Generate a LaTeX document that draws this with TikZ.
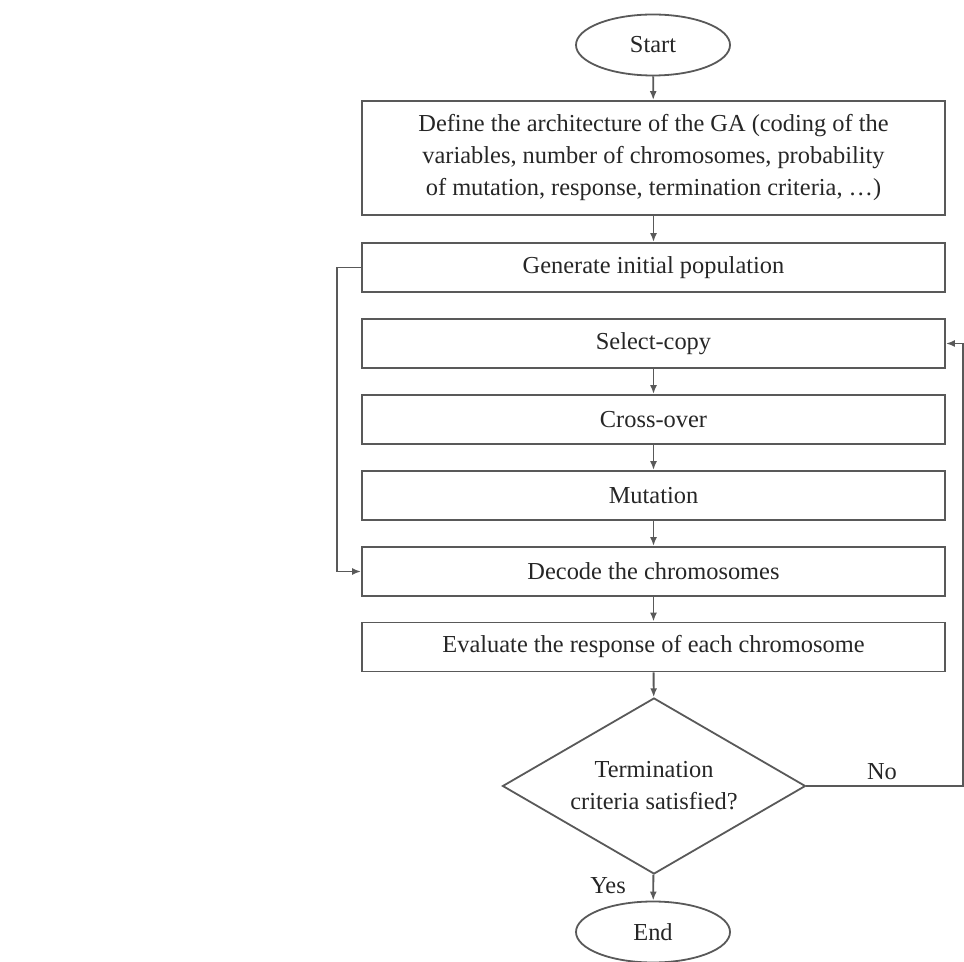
\documentclass[tikz,border=0pt]{standalone}
\usepackage{fontspec}
\setmainfont{Liberation Serif}
\usetikzlibrary{shapes.geometric,arrows.meta,positioning}

\begin{document}
\begin{tikzpicture}[
          x=0.5pt, y=-0.5pt,
          every node/.style={font=\fontsize{12.2}{16}\selectfont, text=black!85},
          line/.style={draw=black!65, line width=0.9pt},
          flow/.style={line, -{Latex[length=4.5pt,width=3.5pt]}},
          stepbox/.style={line, rectangle, minimum width=291.5pt, minimum height=24.5pt, inner sep=0pt, align=center},
          terminal/.style={line, ellipse, minimum width=77pt, minimum height=30.5pt, inner sep=0pt},
          decision/.style={line, diamond, aspect=1.75, minimum width=151.5pt, minimum height=88pt, inner sep=0pt, align=center}
        ]
        \useasboundingbox (0,0) rectangle (964,962);

        % Main column
        \node[terminal] (start) at (653,45) {Start};
        \node[stepbox, minimum height=57pt] (arch) at (653.5,158) {Define the architecture of the GA (coding of the\\variables, number of chromosomes, probability\\of mutation, response, termination criteria, …)};
        \node[stepbox] (init) at (653.5,267.5) {Generate initial population};
        \node[stepbox] (sel) at (653.5,343.5) {Select-copy};
        \node[stepbox] (cross) at (653.5,419.5) {Cross-over};
        \node[stepbox] (mut) at (653.5,495.5) {Mutation};
        \node[stepbox] (dec) at (653.5,571.5) {Decode the chromosomes};
        \node[stepbox] (eval) at (653.5,647) {Evaluate the response of each chromosome};
        \node[decision] (cond) at (654,786) {Termination\\criteria satisfied?};
        \node[terminal] (stop) at (653,932) {End};

        % Branch labels
        \node (no) at (882,772) {No};
        \node (yes) at (608,886) {Yes};

        % Loop end points
        \coordinate (rt) at (963,786);
        \coordinate (lt) at (337,267.5);

        % Straight flow
        \draw[flow] (start) -- (arch);
        \draw[flow] (arch) -- (init);
        \draw[flow] (sel) -- (cross);
        \draw[flow] (cross) -- (mut);
        \draw[flow] (mut) -- (dec);
        \draw[flow] (dec) -- (eval);
        \draw[flow] (eval) -- (cond);
        \draw[flow] (cond) -- (stop);

        % Loops
        \draw[flow] (init.west) -- (lt) |- (dec.west);
        \draw[flow] (cond.east) -- (rt) |- (sel.east);

      \end{tikzpicture}
\end{document}
